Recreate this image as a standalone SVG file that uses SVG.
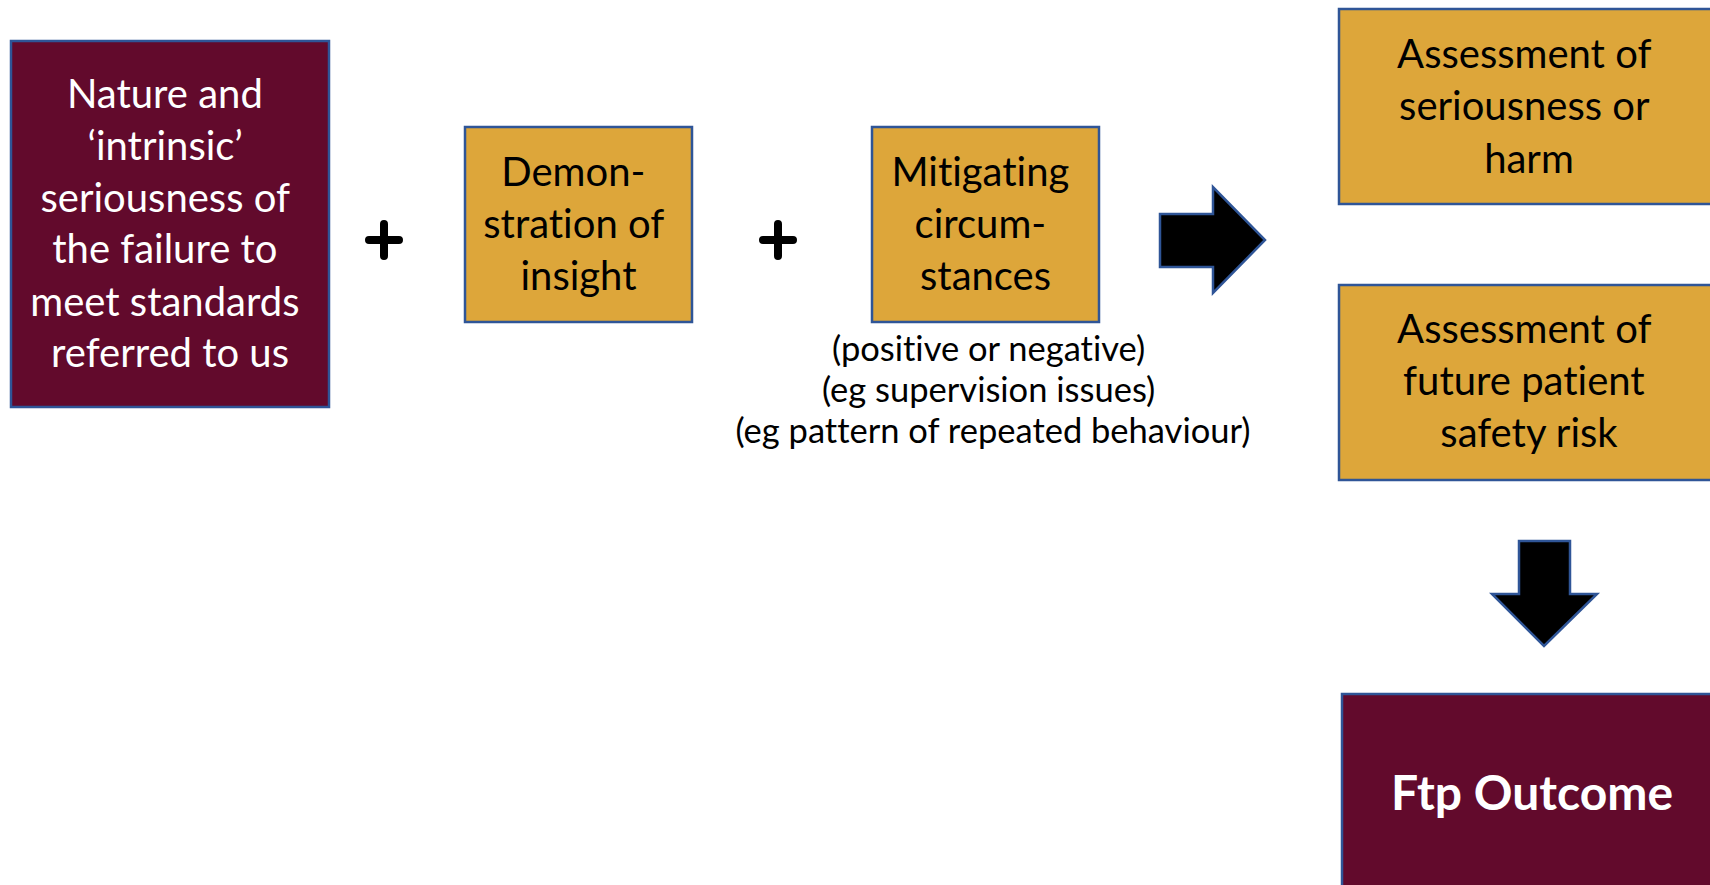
<svg xmlns="http://www.w3.org/2000/svg" width="1710" height="885" viewBox="0 0 1710 885">
  <style>
    .maroon { fill: #620A2C; stroke: #2F5597; stroke-width: 2.5; }
    .gold { fill: #DDA63A; stroke: #2F5597; stroke-width: 2.5; }
    .arrow { fill: #000000; stroke: #2F5597; stroke-width: 2.5; stroke-linejoin: miter; }
    .plus { stroke: #000000; stroke-width: 8; stroke-linecap: round; fill: none; }
    text { font-family: Lato, "Open Sans", "Liberation Sans", sans-serif; text-anchor: middle;
           font-variant-ligatures: none; font-feature-settings: "liga" 0, "dlig" 0; }
    .lbl { font-size: 40px; fill: #000000; }
    .lbl-w { font-size: 40px; fill: #FFFFFF; }
    .note { font-size: 34.5px; fill: #000000; }
    .title { font-size: 48px; font-weight: bold; fill: #FFFFFF; }
  </style>

  <rect width="1710" height="885" fill="#FFFFFF"/>

  <!-- Input factors -->
  <g id="nature">
    <rect class="maroon" x="11" y="41" width="318" height="366"/>
    <text class="lbl-w">
      <tspan x="170" y="108">Nature and</tspan>
      <tspan x="170" y="160">‘intrinsic’</tspan>
      <tspan x="170" y="212">seriousness of</tspan>
      <tspan x="170" y="263">the failure to</tspan>
      <tspan x="170" y="316">meet standards</tspan>
      <tspan x="170" y="367">referred to us</tspan>
    </text>
  </g>

  <g id="insight">
    <rect class="gold" x="465" y="127" width="227" height="195"/>
    <text class="lbl">
      <tspan x="578.5" y="186">Demon-</tspan>
      <tspan x="578.5" y="238">stration of</tspan>
      <tspan x="578.5" y="290">insight</tspan>
    </text>
  </g>

  <g id="mitigating">
    <rect class="gold" x="872" y="127" width="227" height="195"/>
    <text class="lbl">
      <tspan x="985.5" y="186">Mitigating</tspan>
      <tspan x="985.5" y="238">circum-</tspan>
      <tspan x="985.5" y="290">stances</tspan>
    </text>
    <text class="note">
      <tspan x="993" y="361">(positive or negative)</tspan>
      <tspan x="993" y="402">(eg supervision issues)</tspan>
      <tspan x="993" y="443">(eg pattern of repeated behaviour)</tspan>
    </text>
  </g>

  <!-- Assessments -->
  <g id="seriousness">
    <rect class="gold" x="1339" y="9" width="380" height="195"/>
    <text class="lbl">
      <tspan x="1529" y="68">Assessment of</tspan>
      <tspan x="1529" y="120">seriousness or</tspan>
      <tspan x="1529" y="173">harm</tspan>
    </text>
  </g>

  <g id="risk">
    <rect class="gold" x="1339" y="285" width="380" height="195"/>
    <text class="lbl">
      <tspan x="1529" y="343">Assessment of</tspan>
      <tspan x="1529" y="395">future patient</tspan>
      <tspan x="1529" y="447">safety risk</tspan>
    </text>
  </g>

  <!-- Result -->
  <g id="outcome">
    <rect class="maroon" x="1342" y="694" width="380" height="210"/>
    <text class="title" x="1532" y="810">Ftp Outcome</text>
  </g>

  <!-- Plus operators between factors -->
  <g id="operators">
    <path class="plus" d="M369 240 H399 M384 224 V256"/>
    <path class="plus" d="M763 240 H793 M778 224 V256"/>
  </g>

  <!-- Block arrows -->
  <g id="connectors">
    <polygon class="arrow" points="1160,214 1213,214 1213,187 1265,240 1213,293 1213,267 1160,267"/>
    <polygon class="arrow" points="1519,541 1570,541 1570,594 1597,594 1544,646 1492,594 1519,594"/>
  </g>
</svg>
